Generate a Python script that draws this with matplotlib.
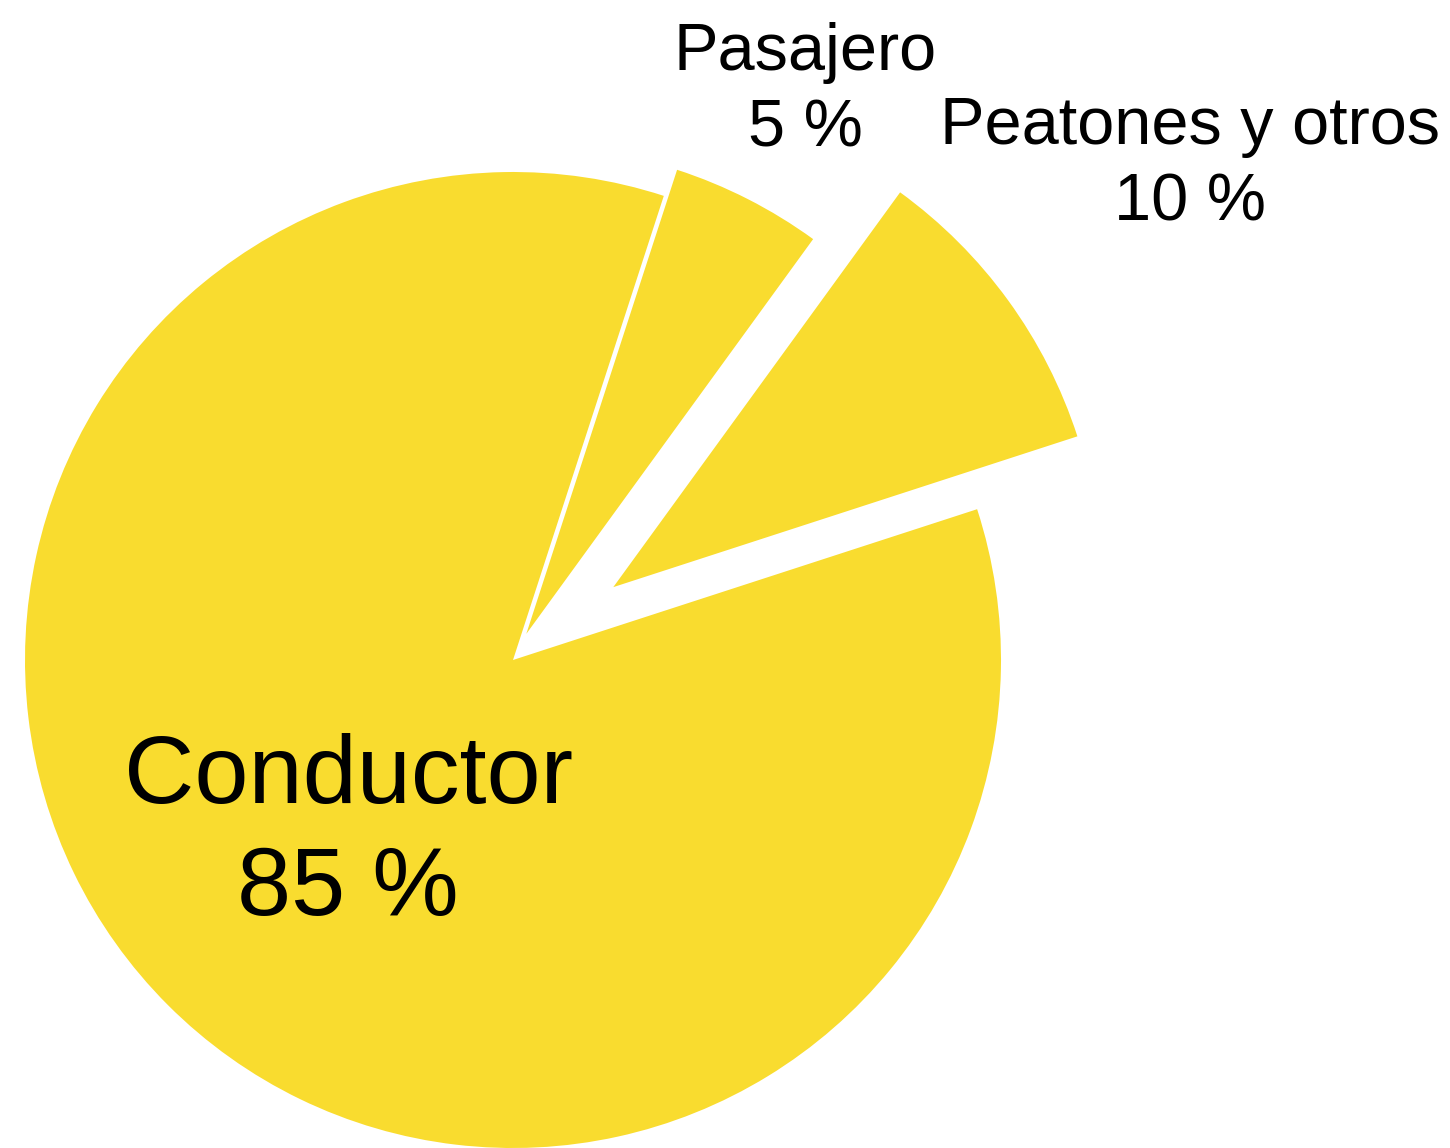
import matplotlib
matplotlib.use("Agg")
import matplotlib.pyplot as plt

# data
categories = ["Conductor", "Peatones y otros", "Pasajero"]
shares = [85, 10, 5]
label_text = ["Conductor\n85 %", "Peatones y otros\n10 %", "Pasajero\n5 %"]

plt.rcParams['font.family'] = ['Liberation Sans', 'DejaVu Sans']

W, H = 1450, 1148
cx, cy, R = 513, 660, 488   # pie centre / radius in pixels (y from top)

fig = plt.figure(figsize=(W / 100, H / 100), dpi=100)
ax = fig.add_axes([0, 0, 1, 1])

ax.pie(shares, startangle=72, counterclock=True, colors=['#F9DC2F'] * 3,
       explode=[0, 0.254, 0.06], wedgeprops=dict(linewidth=0))

# pie() resets the limits, so set them afterwards
ax.set_xlim(-cx / R, (W - cx) / R)
ax.set_ylim(-(H - cy) / R, cy / R)
ax.set_aspect('equal')
ax.axis('off')


def px(x, y):
    return (x - cx) / R, (cy - y) / R


# label positions (pixels) and font sizes
pos = [(348, 834), (1190, 165), (805, 91)]
sizes = [70, 48, 48]
for txt, (x, y), fs in zip(label_text, pos, sizes):
    ax.text(*px(x, y), txt, ha='center', va='center', fontsize=fs,
            linespacing=1.3, color='black')

fig.savefig("out.png", dpi=100)
